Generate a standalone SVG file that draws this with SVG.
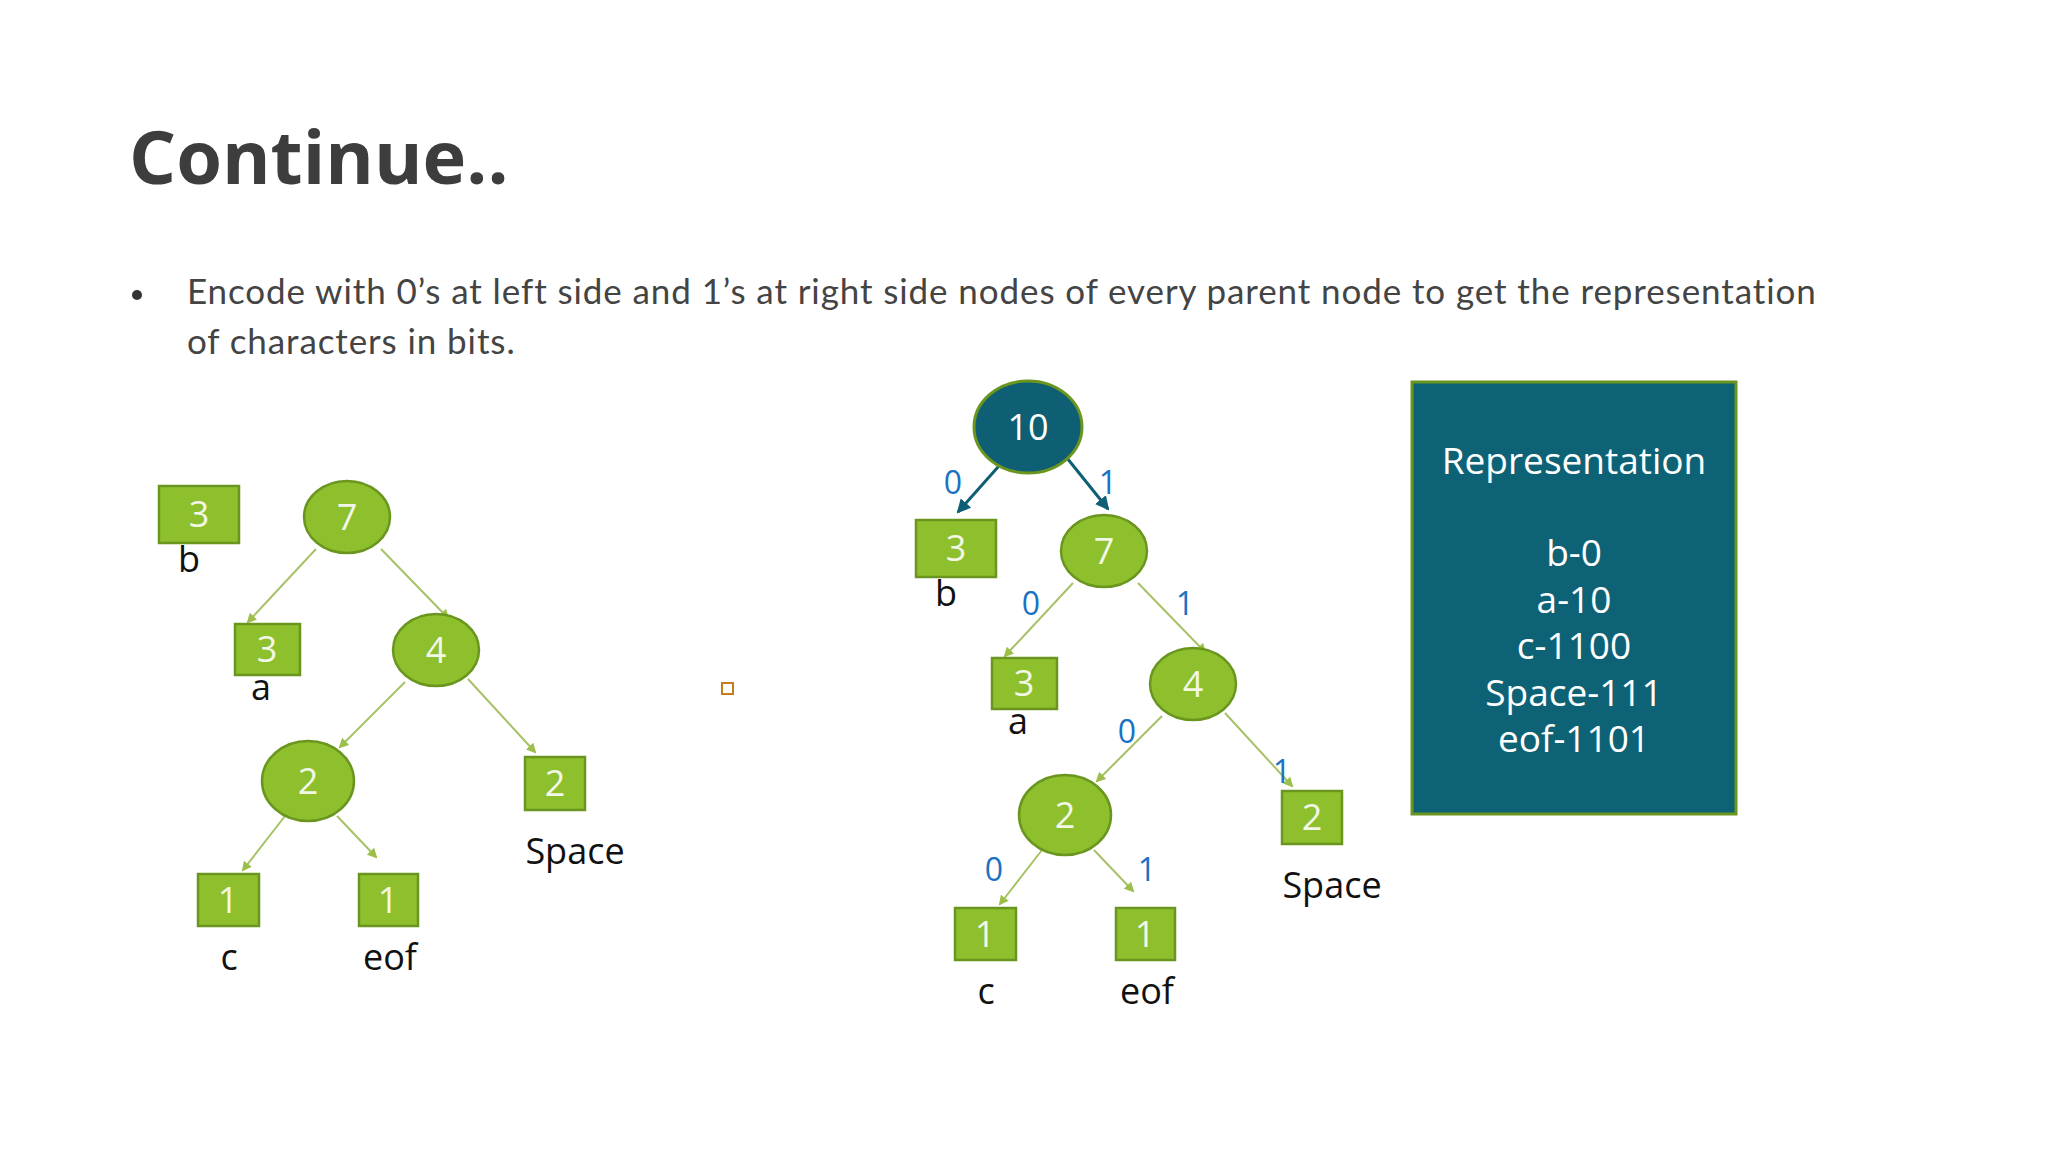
<svg xmlns="http://www.w3.org/2000/svg" width="2048" height="1152" viewBox="0 0 2048 1152">
<defs>
<marker id="ag" markerWidth="10" markerHeight="10" refX="8" refY="5" orient="auto" markerUnits="userSpaceOnUse"><path d="M0,0 L10,5 L0,10 Z" fill="#9dbf4a"/></marker>
<marker id="at" markerWidth="14" markerHeight="14" refX="12" refY="7" orient="auto" markerUnits="userSpaceOnUse"><path d="M0,0 L14,7 L0,14 Z" fill="#0e5f73"/></marker>
</defs>
<style>
.n{fill:#8dc02c;stroke:#6a961f;stroke-width:2.5}
.nt{fill:#f2f7e6;font-family:"Open Sans","Liberation Sans",sans-serif;font-size:36px;text-anchor:middle}
.lb{fill:#111;font-family:"Open Sans","Liberation Sans",sans-serif;font-size:36px;text-anchor:middle}
.e{stroke:#a7c266;stroke-width:2;fill:none;marker-end:url(#ag)}
.et{stroke:#0e5f73;stroke-width:3;fill:none;marker-end:url(#at)}
.bit{fill:#1b72c4;font-family:"Open Sans","Liberation Sans",sans-serif;font-size:32px;text-anchor:middle}
.rep{fill:#fff;font-family:"Open Sans","Liberation Sans",sans-serif;font-size:37px;text-anchor:middle}
</style>
<rect width="2048" height="1152" fill="#fff"/>
<text x="129" y="184" font-family="'Open Sans',Lato,sans-serif" font-weight="bold" font-size="74" fill="#3d3d3d">Continue..</text>
<circle cx="137" cy="295" r="5" fill="#333"/>
<text font-family="Lato,'Open Sans',sans-serif" font-size="35" fill="#444" letter-spacing="0.9"><tspan x="187" y="304">Encode with 0’s at left side and 1’s at right side nodes of every parent node to get the representation</tspan><tspan x="187" y="354">of characters in bits.</tspan></text>

<g id="connectors">
<path class="e" d="M316,549 L248,622"/>
<path class="e" d="M381,549 L448,618"/>
<path class="e" d="M405,682 L340,747"/>
<path class="e" d="M468,679 L535,752"/>
<path class="e" d="M285,816 L243,870"/>
<path class="e" d="M337,816 L376,857"/>
<g transform="translate(757,34)">
<path class="e" d="M316,549 L248,622"/>
<path class="e" d="M381,549 L448,618"/>
<path class="e" d="M405,682 L340,747"/>
<path class="e" d="M468,679 L535,752"/>
<path class="e" d="M285,816 L243,870"/>
<path class="e" d="M337,816 L376,857"/>
</g>
<path class="et" d="M1006,458 L958,512"/>
<path class="et" d="M1067,458 L1108,509"/>
<text class="bit" x="953" y="494">0</text>
<text class="bit" x="1108" y="494">1</text>
<text class="bit" x="1031" y="615">0</text>
<text class="bit" x="1185" y="615">1</text>
<text class="bit" x="1127" y="743">0</text>
<text class="bit" x="1282" y="783">1</text>
<text class="bit" x="994" y="881">0</text>
<text class="bit" x="1147" y="881">1</text>
</g>

<g id="L_b"><rect class="n" x="159" y="486" width="80" height="57"/><text class="nt" x="199" y="527">3</text><text class="lb" x="189" y="572">b</text></g>
<g id="L_7"><ellipse class="n" cx="347" cy="517" rx="43" ry="36"/><text class="nt" x="347" y="530">7</text></g>
<g id="L_a"><rect class="n" x="235" y="624" width="65" height="51"/><text class="nt" x="267" y="662">3</text><text class="lb" x="261" y="700">a</text></g>
<g id="L_4"><ellipse class="n" cx="436" cy="650" rx="43" ry="36"/><text class="nt" x="436" y="663">4</text></g>
<g id="L_2"><ellipse class="n" cx="308" cy="781" rx="46" ry="40"/><text class="nt" x="308" y="794">2</text></g>
<g id="L_sp"><rect class="n" x="525" y="757" width="60" height="53"/><text class="nt" x="555" y="796">2</text><text class="lb" x="575" y="864">Space</text></g>
<g id="L_c"><rect class="n" x="198" y="874" width="61" height="52"/><text class="nt" x="228" y="913">1</text><text class="lb" x="229" y="970">c</text></g>
<g id="L_eof"><rect class="n" x="359" y="874" width="59" height="52"/><text class="nt" x="388" y="913">1</text><text class="lb" x="390" y="970">eof</text></g>

<rect x="722" y="683" width="11" height="11" fill="none" stroke="#c87a1e" stroke-width="2"/>

<g id="R_10"><ellipse cx="1028" cy="427" rx="54" ry="46" fill="#0e5f73" stroke="#6a961f" stroke-width="3"/><text class="nt" x="1028" y="440" style="fill:#fff">10</text></g>
<g transform="translate(757,34)">
<g id="R_b"><rect class="n" x="159" y="486" width="80" height="57"/><text class="nt" x="199" y="527">3</text><text class="lb" x="189" y="572">b</text></g>
<g id="R_7"><ellipse class="n" cx="347" cy="517" rx="43" ry="36"/><text class="nt" x="347" y="530">7</text></g>
<g id="R_a"><rect class="n" x="235" y="624" width="65" height="51"/><text class="nt" x="267" y="662">3</text><text class="lb" x="261" y="700">a</text></g>
<g id="R_4"><ellipse class="n" cx="436" cy="650" rx="43" ry="36"/><text class="nt" x="436" y="663">4</text></g>
<g id="R_2"><ellipse class="n" cx="308" cy="781" rx="46" ry="40"/><text class="nt" x="308" y="794">2</text></g>
<g id="R_sp"><rect class="n" x="525" y="757" width="60" height="53"/><text class="nt" x="555" y="796">2</text><text class="lb" x="575" y="864">Space</text></g>
<g id="R_c"><rect class="n" x="198" y="874" width="61" height="52"/><text class="nt" x="228" y="913">1</text><text class="lb" x="229" y="970">c</text></g>
<g id="R_eof"><rect class="n" x="359" y="874" width="59" height="52"/><text class="nt" x="388" y="913">1</text><text class="lb" x="390" y="970">eof</text></g>
</g>

<g id="representation">
<rect x="1412" y="382" width="324" height="432" fill="#0e6275" stroke="#6a961f" stroke-width="3"/>
<text class="rep" x="1574" y="474">Representation</text>
<text class="rep" x="1574" y="566">b-0</text>
<text class="rep" x="1574" y="613">a-10</text>
<text class="rep" x="1574" y="659">c-1100</text>
<text class="rep" x="1574" y="706">Space-111</text>
<text class="rep" x="1574" y="752">eof-1101</text>
</g>
</svg>
